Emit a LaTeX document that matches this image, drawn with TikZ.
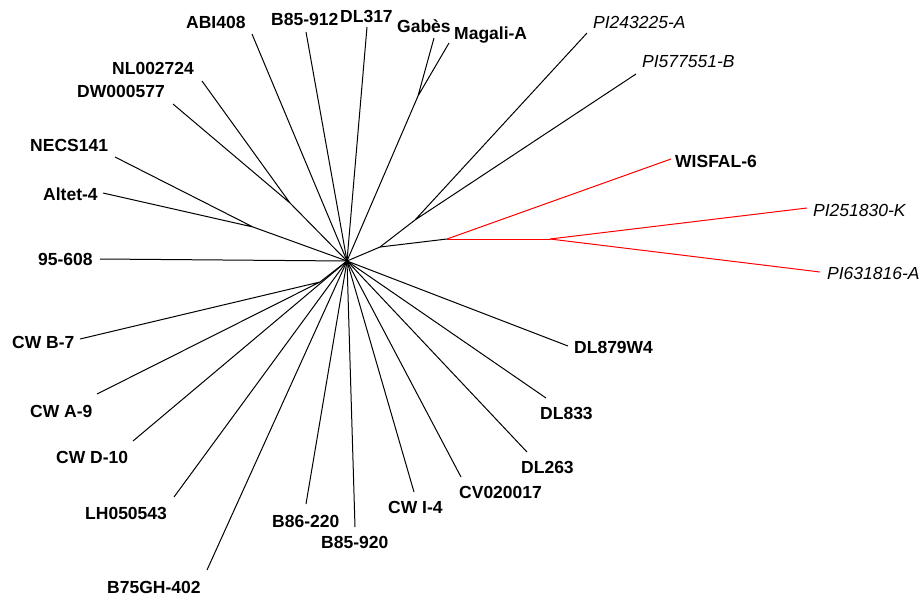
\documentclass[tikz,border=0pt]{standalone}
\usepackage{fontspec}
\setmainfont{Liberation Sans}
\begin{document}
\begin{tikzpicture}[x=1pt,y=-1pt,
  lab/.style={anchor=base west, inner sep=0pt, font=\fontsize{17.5}{20}\selectfont\bfseries},
  ilab/.style={anchor=base west, inner sep=0pt, font=\fontsize{17.5}{20}\selectfont\itshape},
  brline/.style={draw=black, line width=1pt},
  redline/.style={draw=red, line width=1pt}]
\useasboundingbox (0,0) rectangle (921,600);
% internal nodes
\coordinate (C) at (347,261);
\coordinate (nA) at (253,227);
\coordinate (nD) at (290,203);
\coordinate (nG) at (418,96);
\coordinate (nR1) at (380,247);
\coordinate (nP) at (415,220);
\coordinate (nRed) at (447,239);
\coordinate (nRed2) at (550,239);
\coordinate (nB) at (320,282);
% tips
\coordinate (t95) at (100,259);
\coordinate (tAltet) at (103,193);
\coordinate (tNECS) at (115,157);
\coordinate (tDW) at (173,104);
\coordinate (tNL) at (202,81);
\coordinate (tABI) at (252,34);
\coordinate (tB85912) at (306,32);
\coordinate (tDL317) at (367,27);
\coordinate (tGabes) at (434,38);
\coordinate (tMagali) at (449,43);
\coordinate (tPI243) at (587,33);
\coordinate (tPI577) at (636,74);
\coordinate (tWIS) at (671,159);
\coordinate (tPI251) at (807,208);
\coordinate (tPI631) at (820,272);
\coordinate (tDL879) at (568,346);
\coordinate (tDL833) at (546,398);
\coordinate (tDL263) at (527,452);
\coordinate (tCV) at (461,477);
\coordinate (tCWI4) at (414,492);
\coordinate (tB85920) at (355,527);
\coordinate (tB86220) at (306,504);
\coordinate (tB75) at (207,570);
\coordinate (tLH) at (174,497);
\coordinate (tCWD10) at (133,441);
\coordinate (tCWA9) at (97,394);
\coordinate (tCWB7) at (80,339);
% black branches
\draw[brline] (C) -- (t95);
\draw[brline] (C) -- (nA) (nA) -- (tAltet) (nA) -- (tNECS);
\draw[brline] (C) -- (nD) (nD) -- (tDW) (nD) -- (tNL);
\draw[brline] (C) -- (tABI);
\draw[brline] (C) -- (tB85912);
\draw[brline] (C) -- (tDL317);
\draw[brline] (C) -- (nG) (nG) -- (tGabes) (nG) -- (tMagali);
\draw[brline] (C) -- (nR1) (nR1) -- (nP) (nP) -- (tPI243) (nP) -- (tPI577);
\draw[brline] (nR1) -- (nRed);
\draw[brline] (C) -- (tDL879);
\draw[brline] (C) -- (tDL833);
\draw[brline] (C) -- (tDL263);
\draw[brline] (C) -- (tCV);
\draw[brline] (C) -- (tCWI4);
\draw[brline] (C) -- (tB85920);
\draw[brline] (C) -- (tB86220);
\draw[brline] (C) -- (tB75);
\draw[brline] (C) -- (tLH);
\draw[brline] (C) -- (tCWD10);
\draw[brline] (C) -- (nB) (nB) -- (tCWA9) (nB) -- (tCWB7);
% red branches
\draw[redline] (nRed) -- (tWIS);
\draw[redline] (nRed) -- (nRed2);
\draw[redline] (nRed2) -- (tPI251);
\draw[redline] (nRed2) -- (tPI631);
% labels
\node[lab] (l95) at (38,265) {95-608};
\node[lab] (lAltet) at (43,200) {Altet-4};
\node[lab] (lNECS) at (30,151) {NECS141};
\node[lab] (lDW) at (77,97) {DW000577};
\node[lab] (lNL) at (112,74) {NL002724};
\node[lab] (lABI) at (186,28) {ABI408};
\node[lab] (lB85912) at (271,25) {B85-912};
\node[lab] (lDL317) at (340,22) {DL317};
\node[lab] (lGabes) at (397,32) {Gabès};
\node[lab] (lMagali) at (454,39) {Magali-A};
\node[ilab] (lPI243) at (593,28) {PI243225-A};
\node[ilab] (lPI577) at (642,67) {PI577551-B};
\node[lab] (lWIS) at (675,167) {WISFAL-6};
\node[ilab] (lPI251) at (813,216) {PI251830-K};
\node[ilab] (lPI631) at (827,279) {PI631816-A};
\node[lab] (lCWB7) at (12,348) {CW B-7};
\node[lab] (lCWA9) at (30,417) {CW A-9};
\node[lab] (lCWD10) at (56,463) {CW D-10};
\node[lab] (lLH) at (85,519) {LH050543};
\node[lab] (lB75) at (107,593) {B75GH-402};
\node[lab] (lB86220) at (272,527) {B86-220};
\node[lab] (lB85920) at (321,548) {B85-920};
\node[lab] (lCWI4) at (388,513) {CW I-4};
\node[lab] (lCV) at (459,498) {CV020017};
\node[lab] (lDL263) at (521,473) {DL263};
\node[lab] (lDL833) at (540,419) {DL833};
\node[lab] (lDL879) at (574,353) {DL879W4};
\end{tikzpicture}
\end{document}
